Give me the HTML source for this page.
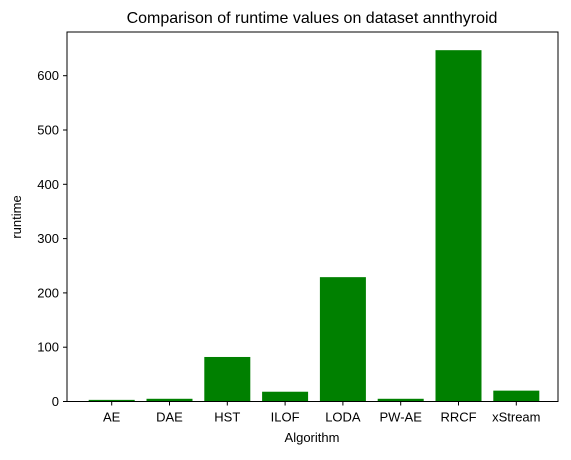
<!DOCTYPE html>
<html><head><meta charset="utf-8"><style>
body{margin:0;background:#fff}
svg{font-family:"Liberation Sans","DejaVu Sans",sans-serif}
</style></head><body>
<svg width="571" height="455" viewBox="0 0 571 455">
<g id="bars"></g>
<rect x="67" y="32" width="491" height="369.5" fill="none" stroke="#000" stroke-width="1"/>
<g id="ticks" font-size="13" fill="#000"></g>
<text x="312" y="23" text-anchor="middle" font-size="16">Comparison of runtime values on dataset annthyroid</text>
<text x="312" y="442" text-anchor="middle" font-size="13">Algorithm</text>
<text x="21" y="217" text-anchor="middle" font-size="13" transform="rotate(-90 21 217)">runtime</text>
</svg>
<script>
const categories=["AE","DAE","HST","ILOF","LODA","PW-AE","RRCF","xStream"];
const runtimes=[3,5,82,18,229,5,647,20];
const yTicks=[0,100,200,300,400,500,600];
const NS="http://www.w3.org/2000/svg";
const y0=401.5, pxPer=0.543;
function ys(v){return y0-v*pxPer;}
function xs(i){return 111.7+i*57.8;}
const bw=46;
const bars=document.getElementById('bars'), ticks=document.getElementById('ticks');
function mk(t,a,p){const e=document.createElementNS(NS,t);for(const k in a)e.setAttribute(k,a[k]);p.appendChild(e);return e;}
categories.forEach((c,i)=>{
  const r=mk('rect',{x:xs(i)-bw/2,y:ys(runtimes[i]),width:bw,height:y0-ys(runtimes[i]),fill:'#008000'},bars);
  
  
  const l=mk('line',{x1:xs(i),x2:xs(i),y1:y0,y2:y0+4,stroke:'#000'},ticks);
  
  
  const t=mk('text',{x:xs(i),y:y0+20,'text-anchor':'middle'},ticks);t.textContent=c;
  
  
});
yTicks.forEach(v=>{
  const l=mk('line',{x1:63,x2:67,y1:ys(v),y2:ys(v),stroke:'#000'},ticks);
  
  
  const t=mk('text',{x:59,y:ys(v)+4.5,'text-anchor':'end'},ticks);t.textContent=v;
  
  
});
</script>
</body></html>
